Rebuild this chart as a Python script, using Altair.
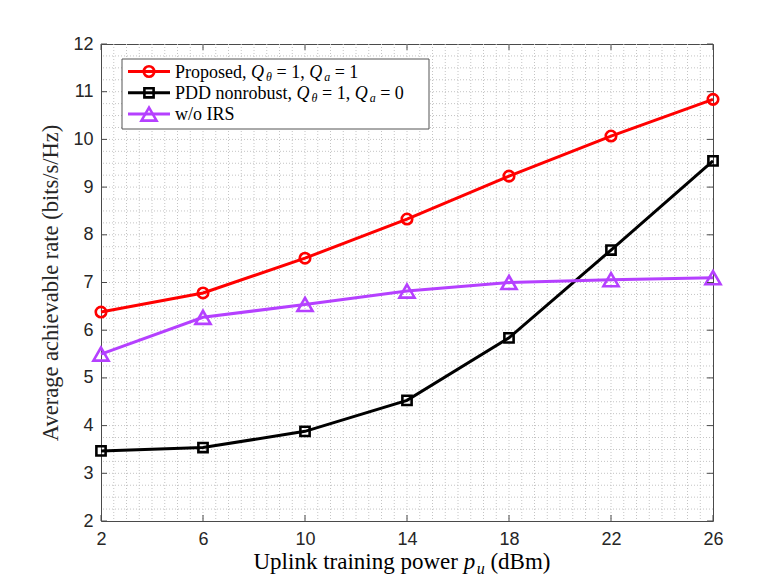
import altair as alt
import pandas as pd
import numpy as np

# ---------------- data ----------------
x_power = [2, 6, 10, 14, 18, 22, 26]
proposed = [6.38, 6.78, 7.51, 8.33, 9.23, 10.07, 10.84]
pdd_nonrobust = [3.47, 3.54, 3.88, 4.53, 5.84, 7.68, 9.55]
wo_irs = [5.50, 6.27, 6.54, 6.82, 7.00, 7.06, 7.10]
series_names = ["Proposed", "PDD nonrobust", "w/o IRS"]
x_ticks = [2, 6, 10, 14, 18, 22, 26]
y_ticks = [2, 3, 4, 5, 6, 7, 8, 9, 10, 11, 12]

colors = ["#ff0000", "#000000", "#b540ff"]
shapes = ["circle", "square", "triangle-up"]
sizes = [110, 85, 230]

W, H = 612, 477
AXC = "#4a4a4a"
TXT = "#262626"
SERIF = "Liberation Serif"
GRIDC = "#c4c4c4"

rows = []
for name, vals in zip(series_names, [proposed, pdd_nonrobust, wo_irs]):
    for xv, yv in zip(x_power, vals):
        rows.append({"x": xv, "y": yv, "series": name})
df = pd.DataFrame(rows)

x_grid = [float(v) for v in np.arange(2.5, 25.51, 0.5)]
y_grid = [float(v) for v in np.arange(2.25, 11.76, 0.25)]

xs = alt.Scale(domain=[2, 26], nice=False, zero=False)
ys = alt.Scale(domain=[2, 12], nice=False, zero=False)

layers = []

# axes (base layer carries axes)
base = alt.Chart(df).mark_line(opacity=0).encode(
    x=alt.X("x:Q", scale=xs, axis=alt.Axis(
        values=x_ticks, grid=False,
        ticks=False, tickSize=0, domain=False, labelOverlap=False, labelFlush=False,
        labelFont="Liberation Sans", labelFontSize=18, labelColor=TXT, labelPadding=9,
        title=None)),
    y=alt.Y("y:Q", scale=ys, axis=alt.Axis(
        values=y_ticks, grid=False,
        ticks=False, tickSize=0, domain=False, labelOverlap=False, labelFlush=False,
        labelFont="Liberation Sans", labelFontSize=18, labelColor=TXT, labelPadding=8,
        title="Average achievable rate (bits/s/Hz)", titleFont=SERIF, titleFontSize=22.5,
        titleFontWeight="normal", titleColor=TXT, titlePadding=10)),
)
layers.append(base)

# dotted grid
xg = pd.DataFrame({"x": x_grid})
yg = pd.DataFrame({"y": y_grid})
layers.append(alt.Chart(xg).mark_rule(color=GRIDC, strokeWidth=1, strokeDash=[1, 2]).encode(
    x=alt.X("x:Q", scale=xs)))
layers.append(alt.Chart(yg).mark_rule(color=GRIDC, strokeWidth=1, strokeDash=[1, 2]).encode(
    y=alt.Y("y:Q", scale=ys)))

# data lines and markers
for name, c, sh, sz in zip(series_names, colors, shapes, sizes):
    sub = alt.Chart(df).transform_filter(alt.datum.series == name)
    layers.append(sub.mark_line(color=c, strokeWidth=3).encode(
        x=alt.X("x:Q", scale=xs), y=alt.Y("y:Q", scale=ys)))
    layers.append(sub.mark_point(shape=sh, filled=False, color=c, size=sz, strokeWidth=2.6, opacity=1).encode(
        x=alt.X("x:Q", scale=xs), y=alt.Y("y:Q", scale=ys)))

# inward ticks
xt = pd.DataFrame({"x": x_ticks})
yt = pd.DataFrame({"y": y_ticks})
TL = 6
layers.append(alt.Chart(xt).mark_rule(color=AXC, strokeWidth=1).encode(
    x=alt.X("x:Q", scale=xs), y=alt.value(H), y2=alt.value(H - TL)))
layers.append(alt.Chart(xt).mark_rule(color=AXC, strokeWidth=1).encode(
    x=alt.X("x:Q", scale=xs), y=alt.value(0), y2=alt.value(TL)))
layers.append(alt.Chart(yt).mark_rule(color=AXC, strokeWidth=1).encode(
    y=alt.Y("y:Q", scale=ys), x=alt.value(0), x2=alt.value(TL)))
layers.append(alt.Chart(yt).mark_rule(color=AXC, strokeWidth=1).encode(
    y=alt.Y("y:Q", scale=ys), x=alt.value(W), x2=alt.value(W - TL)))

# ---------------- text helpers (Times metrics) ----------------
RM = {" ": 250, ",": 250, "P": 556, "r": 333, "o": 500, "p": 500, "s": 389, "e": 444,
      "d": 500, "D": 722, "n": 500, "b": 500, "u": 500, "t": 278, "=": 564, "1": 500,
      "0": 500, "w": 722, "/": 278, "I": 333, "R": 667, "S": 556, "U": 722, "l": 278,
      "i": 278, "k": 500, "a": 444, "g": 500, "(": 333, ")": 333, "B": 667, "m": 778}
IT = {"Q": 722, "a": 500, "\u03b8": 500, "p": 500, "u": 500}
one = pd.DataFrame({"k": [0]})


def frag_layers(frags, x0, yb, fs, fss, sub_dy, center=False, kern=2.0):
    """frags: list of (text, kind) with kind rm / it / sub"""
    widths = []
    for t, k in frags:
        size = fss if k == "sub" else fs
        table = RM if k == "rm" else IT
        w = sum(table.get(ch, 500) for ch in t) / 1000 * size
        if k == "it":
            w += kern  # italic overhang before a subscript
        widths.append(w)
    total = sum(widths)
    x = x0 - total / 2 if center else x0
    out = []
    for (t, k), w in zip(frags, widths):
        size = fss if k == "sub" else fs
        table = RM if k == "rm" else IT
        lead = len(t) - len(t.lstrip(" "))
        lead_w = lead * table.get(" ", 250) / 1000 * size
        s = t.strip(" ")
        if s:
            out.append(alt.Chart(one).mark_text(
                text=s, align="left", baseline="alphabetic", font=SERIF, fontSize=size,
                fontStyle="normal" if k == "rm" else "italic", color="#000000",
                dy=sub_dy if k == "sub" else 0).encode(
                x=alt.value(x + lead_w), y=alt.value(yb)))
        x += w
    return out


# ---------------- legend ----------------
LX0, LX1, LY0, LY1 = 21, 328, 15, 85
layers.append(alt.Chart(one).mark_rect(fill="white", stroke="#555555", strokeWidth=1).encode(
    x=alt.value(LX0), x2=alt.value(LX1), y=alt.value(LY0), y2=alt.value(LY1)))

legend_labels = [
    [("Proposed, ", "rm"), ("Q", "it"), ("\u03b8", "sub"), (" = 1, ", "rm"),
     ("Q", "it"), ("a", "sub"), (" = 1", "rm")],
    [("PDD nonrobust, ", "rm"), ("Q", "it"), ("\u03b8", "sub"), (" = 1, ", "rm"),
     ("Q", "it"), ("a", "sub"), (" = 0", "rm")],
    [("w/o IRS", "rm")],
]
for i, (c, sh, sz, frags) in enumerate(zip(colors, shapes, sizes, legend_labels)):
    cy = 27.5 + i * 21.3
    layers.append(alt.Chart(one).mark_rule(color=c, strokeWidth=3).encode(
        x=alt.value(27), x2=alt.value(69), y=alt.value(cy)))
    layers.append(alt.Chart(one).mark_point(shape=sh, filled=False, color=c, size=sz,
                                            strokeWidth=2.6, opacity=1).encode(
        x=alt.value(48), y=alt.value(cy)))
    layers.extend(frag_layers(frags, 74, cy + 6, 18, 12, 3))

# ---------------- x title ----------------
layers.extend(frag_layers(
    [("Uplink training power ", "rm"), ("p", "it"), ("u", "sub"), (" (dBm)", "rm")],
    W / 2 - 5, H + 48, 23, 16, 5, center=True, kern=1.5))

chart = alt.layer(*layers).properties(
    width=W, height=H,
    autosize=alt.AutoSizeParams(type="none"),
    padding={"left": 93, "top": 36, "right": 57, "bottom": 55},
    background="white",
).configure_view(stroke=AXC, strokeWidth=1)

chart.save("out.html", embed_options={"renderer": "svg", "actions": False})
